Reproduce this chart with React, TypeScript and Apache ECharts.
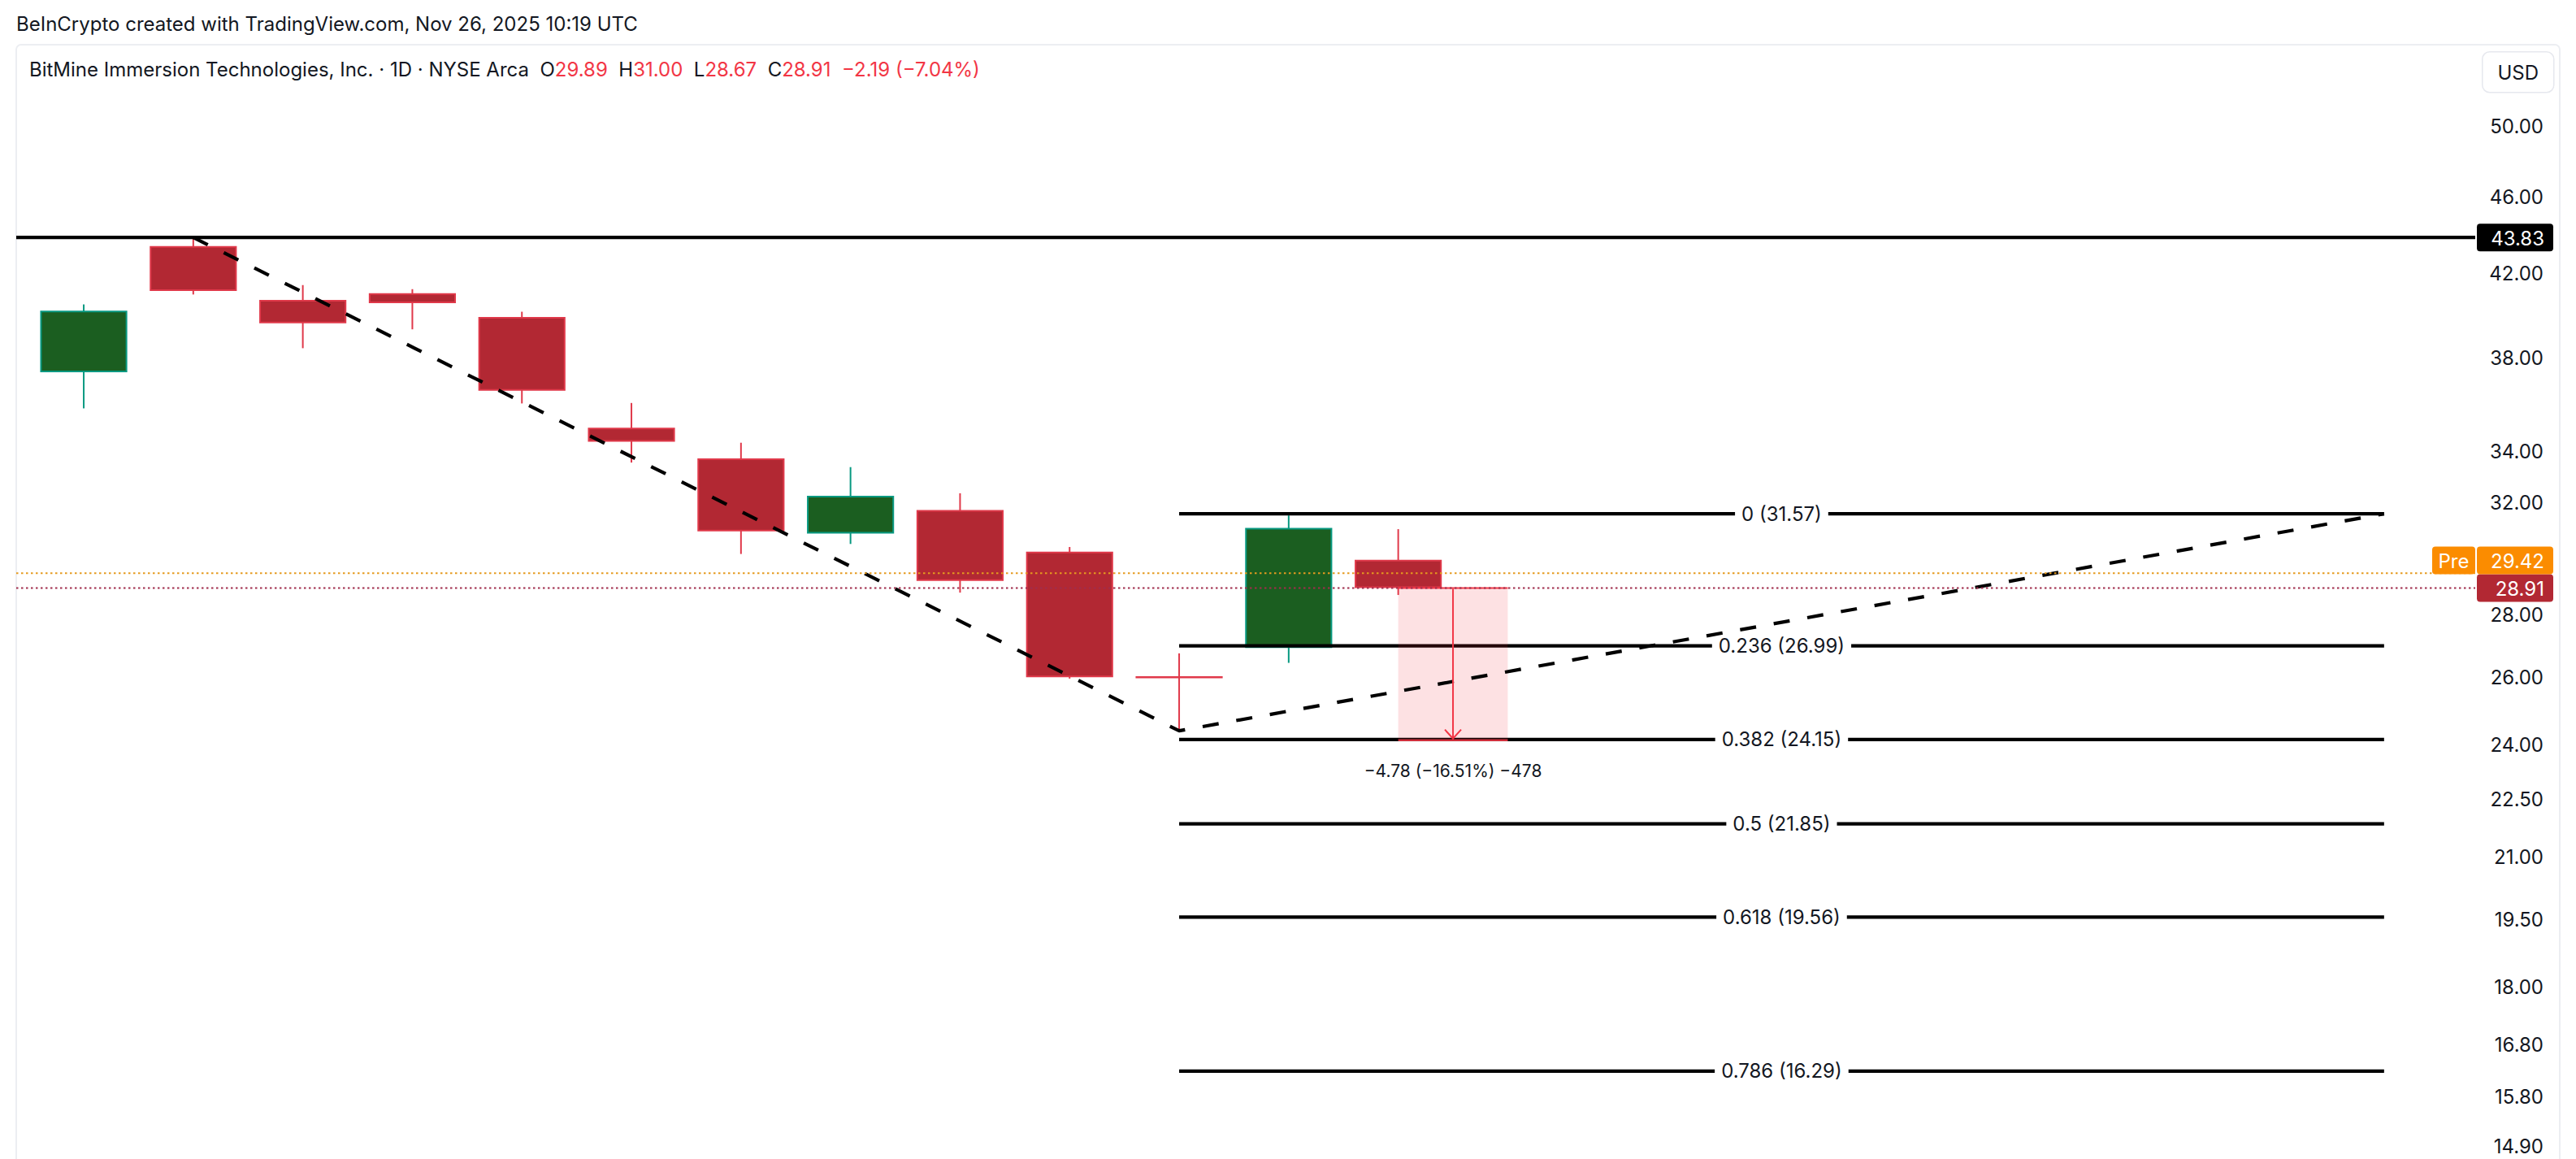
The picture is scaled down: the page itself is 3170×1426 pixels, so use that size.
import React, { useEffect, useRef } from "react";
import * as echarts from "echarts";

// ---------- text ----------
const titleText = "BeInCrypto created with TradingView.com, Nov 26, 2025 10:19 UTC";
const symbolText = "BitMine Immersion Technologies, Inc. · 1D · NYSE Arca";
const legendOpen = "29.89";
const legendHigh = "31.00";
const legendLow = "28.67";
const legendClose = "28.91";
const legendChange = "−2.19 (−7.04%)";
const currencyText = "USD";

// ---------- candles (daily) ----------
const candleIndex = [0, 1, 2, 3, 4, 5, 6, 7, 8, 9, 10, 11, 12];
const opens = [37.35, 43.38, 40.7, 41.02, 39.88, 34.97, 33.72, 30.84, 31.71, 30.18, 26.01, 26.92, 29.89];
const closes = [40.18, 41.13, 39.58, 40.54, 36.54, 34.39, 30.92, 32.25, 29.15, 26.0, 26.0, 31.05, 28.91];
const lows = [35.78, 40.96, 38.43, 39.3, 35.99, 33.55, 30.1, 30.46, 28.75, 25.96, 24.4, 26.45, 28.67];
const highs = [40.48, 43.83, 41.42, 41.22, 40.13, 36.01, 34.35, 33.37, 32.35, 30.35, 26.75, 31.51, 31.0];

// ---------- levels ----------
const resistancePrice = 43.83;
const prePrice = 29.42;
const lastClose = 28.91;

const fibRatios = ["0", "0.236", "0.382", "0.5", "0.618", "0.786"];
const fibPrices = [31.57, 26.99, 24.15, 21.85, 19.56, 16.29];
const fibStartIndex = 10;
const fibEndIndex = 21;

const trendX = [1, 10, 21];
const trendPrices = [43.83, 24.4, 31.57];

const measureFrom = 12;
const measureTo = 13;
const measureTop = 28.91;
const measureBottom = 24.13;
const measureText = "−4.78 (−16.51%) −478";

// ---------- axis ----------
const yTicks = [50, 46, 42, 38, 34, 32, 28, 26, 24, 22.5, 21, 19.5, 18, 16.8, 15.8, 14.9];
const yMinPrice = 14.676;
const yMaxPrice = 55.1;
const xMin = -0.616;
const xMax = 21.832;

const FONT = "Inter, Roboto, 'Liberation Sans', sans-serif";
const INK = "#131722";
const RED = "#f23645";
const DOWN_FILL = "#b22833";
const DOWN_LINE = "#e0394a";
const UP_FILL = "#1b5e20";
const UP_LINE = "#089981";
const ORANGE = "#fb8c00";
const LEVEL_WIDTH = 4.2;

const L = Math.log;

function buildOption(): any {
  const candleData = candleIndex.map((i, k) => [i, L(opens[k]), L(closes[k]), L(lows[k]), L(highs[k])]);

  const candleSeries = {
    type: "custom",
    name: "candles",
    z: 2,
    dimensions: ["x", "open", "close", "low", "high"],
    encode: { x: 0, y: [1, 2, 3, 4] },
    data: candleData,
    renderItem: (params: any, api: any) => {
      const x = api.value(0);
      const o = api.value(1);
      const c = api.value(2);
      const lo = api.value(3);
      const hi = api.value(4);
      const up = c > o;
      const pO = api.coord([x, o]);
      const pC = api.coord([x, c]);
      const pL = api.coord([x, lo]);
      const pH = api.coord([x, hi]);
      const step = api.coord([x + 1, o])[0] - pO[0];
      const w = step * 0.795;
      const cx = pO[0];
      const top = Math.min(pO[1], pC[1]);
      const bot = Math.max(pO[1], pC[1]);
      const line = up ? UP_LINE : DOWN_LINE;
      const fill = up ? UP_FILL : DOWN_FILL;
      const children: any[] = [
        {
          type: "line",
          shape: { x1: cx, y1: pH[1], x2: cx, y2: pL[1] },
          style: { stroke: line, lineWidth: 2 },
        },
      ];
      if (bot - top < 3) {
        children.push({
          type: "line",
          shape: { x1: cx - w / 2, y1: (top + bot) / 2, x2: cx + w / 2, y2: (top + bot) / 2 },
          style: { stroke: line, lineWidth: 2.5 },
        });
      } else {
        children.push({
          type: "rect",
          shape: { x: cx - w / 2 + 1, y: top + 1, width: w - 2, height: bot - top - 2 },
          style: { fill, stroke: line, lineWidth: 2 },
        });
      }
      return { type: "group", children };
    },
  };

  const resistanceSeries = {
    type: "custom",
    name: "resistance",
    z: 3,
    data: [[0, L(resistancePrice)]],
    renderItem: (params: any, api: any) => {
      const v = api.value(1);
      const p1 = api.coord([xMin, v]);
      const p2 = api.coord([xMax, v]);
      return {
        type: "line",
        shape: { x1: p1[0], y1: p1[1], x2: p2[0], y2: p2[1] },
        style: { stroke: "#000", lineWidth: LEVEL_WIDTH },
      };
    },
  };

  const fibSeries = {
    type: "custom",
    name: "fib",
    z: 3,
    data: fibPrices.map((p, k) => [k, L(p)]),
    renderItem: (params: any, api: any) => {
      const k = params.dataIndex;
      const v = api.value(1);
      const p1 = api.coord([fibStartIndex, v]);
      const p2 = api.coord([fibEndIndex, v]);
      const pm = api.coord([(fibStartIndex + fibEndIndex) / 2, v]);
      return {
        type: "group",
        children: [
          {
            type: "line",
            shape: { x1: p1[0], y1: p1[1], x2: p2[0], y2: p2[1] },
            style: { stroke: "#000", lineWidth: LEVEL_WIDTH },
          },
          {
            type: "text",
            x: pm[0],
            y: pm[1],
            style: {
              text: `${fibRatios[k]} (${fibPrices[k].toFixed(2)})`,
              fill: INK,
              fontSize: 24,
              fontFamily: FONT,
              align: "center",
              verticalAlign: "middle",
              backgroundColor: "#ffffff",
              padding: [3, 8],
            },
          },
        ],
      };
    },
  };

  const measureBoxSeries = {
    type: "custom",
    name: "measureBox",
    z: 4,
    data: [[measureFrom, measureTo, L(measureTop), L(measureBottom)]],
    renderItem: (params: any, api: any) => {
      const a = api.coord([api.value(0), api.value(2)]);
      const b = api.coord([api.value(1), api.value(3)]);
      return {
        type: "group",
        children: [
          {
            type: "rect",
            shape: { x: a[0], y: a[1], width: b[0] - a[0], height: b[1] - a[1] },
            style: { fill: "rgba(242,54,69,0.15)" },
          },
          {
            type: "line",
            shape: { x1: a[0], y1: a[1], x2: b[0], y2: a[1] },
            style: { stroke: RED, lineWidth: 2 },
          },
          {
            type: "line",
            shape: { x1: a[0], y1: b[1], x2: b[0], y2: b[1] },
            style: { stroke: RED, lineWidth: 2 },
          },
        ],
      };
    },
  };

  const trendSeries = {
    type: "line",
    name: "trend",
    z: 5,
    symbol: "none",
    silent: true,
    data: trendX.map((x, k) => [x, L(trendPrices[k])]),
    lineStyle: { color: "#000", width: 4.2, type: [20, 22] },
  };

  const dottedSeries = {
    type: "custom",
    name: "dotted",
    z: 6,
    data: [
      [0, L(prePrice)],
      [1, L(lastClose)],
    ],
    renderItem: (params: any, api: any) => {
      const v = api.value(1);
      const p1 = api.coord([xMin, v]);
      const p2 = api.coord([xMax, v]);
      const color = params.dataIndex === 0 ? "#e59a1f" : "#a02d4c";
      return {
        type: "line",
        shape: { x1: p1[0], y1: p1[1], x2: p2[0], y2: p2[1] },
        style: { stroke: color, lineWidth: 2, lineDash: [2.5, 3.5] },
      };
    },
  };

  const measureArrowSeries = {
    type: "custom",
    name: "measureArrow",
    z: 7,
    data: [[measureFrom, measureTo, L(measureTop), L(measureBottom)]],
    renderItem: (params: any, api: any) => {
      const mid = (api.value(0) + api.value(1)) / 2;
      const a = api.coord([mid, api.value(2)]);
      const b = api.coord([mid, api.value(3)]);
      return {
        type: "group",
        children: [
          {
            type: "line",
            shape: { x1: a[0], y1: a[1] + 1, x2: b[0], y2: b[1] - 2 },
            style: { stroke: RED, lineWidth: 2 },
          },
          {
            type: "polyline",
            shape: {
              points: [
                [b[0] - 10, b[1] - 13],
                [b[0], b[1] - 2],
                [b[0] + 10, b[1] - 13],
              ],
            },
            style: { stroke: RED, lineWidth: 2, fill: "none" },
          },
          {
            type: "text",
            x: b[0],
            y: b[1] + 38,
            style: {
              text: measureText,
              fill: INK,
              fontSize: 21,
              fontFamily: FONT,
              align: "center",
              verticalAlign: "middle",
            },
          },
        ],
      };
    },
  };

  const tagSeries = {
    type: "custom",
    name: "tags",
    z: 10,
    data: [
      [0, L(resistancePrice)],
      [1, L(lastClose)],
      [2, L(prePrice)],
    ],
    renderItem: (params: any, api: any) => {
      const k = params.dataIndex;
      const v = api.value(1);
      const p = api.coord([xMax, v]);
      const right = p[0];
      const h = 34;
      let cy = p[1];
      let fill = "#000";
      let label = resistancePrice.toFixed(2);
      if (k === 1) {
        fill = DOWN_FILL;
        label = lastClose.toFixed(2);
      }
      if (k === 2) {
        fill = ORANGE;
        label = prePrice.toFixed(2);
        const closeY = api.coord([xMax, L(lastClose)])[1];
        cy = Math.min(cy, closeY - h);
      }
      const children: any[] = [
        {
          type: "rect",
          shape: { x: right + 2, y: cy - h / 2, width: 94, height: h, r: 4 },
          style: { fill },
        },
        {
          type: "text",
          x: right + 85,
          y: cy + 1,
          style: {
            text: label,
            fill: "#ffffff",
            fontSize: 24,
            fontFamily: FONT,
            align: "right",
            verticalAlign: "middle",
          },
        },
      ];
      if (k === 2) {
        children.push(
          {
            type: "rect",
            shape: { x: right - 53, y: cy - h / 2, width: 53, height: h, r: 4 },
            style: { fill: ORANGE },
          },
          {
            type: "text",
            x: right - 26.5,
            y: cy + 1,
            style: {
              text: "Pre",
              fill: "#ffffff",
              fontSize: 24,
              fontFamily: FONT,
              align: "center",
              verticalAlign: "middle",
            },
          }
        );
      }
      return { type: "group", children };
    },
  };

  return {
    animation: false,
    backgroundColor: "#ffffff",
    grid: { left: 20, right: 124, top: 55, bottom: 0, containLabel: false },
    xAxis: {
      type: "value",
      min: xMin,
      max: xMax,
      show: false,
    },
    yAxis: {
      type: "value",
      position: "right",
      min: L(yMinPrice),
      max: L(yMaxPrice),
      axisLine: { show: false },
      axisTick: { show: false },
      splitLine: { show: false },
      axisLabel: {
        customValues: yTicks.map((t) => L(t)),
        formatter: (v: number) => Math.exp(v).toFixed(2),
        fontSize: 24,
        fontFamily: FONT,
        color: INK,
        align: "right",
        margin: 84,
      },
    },
    graphic: [
      {
        type: "rect",
        z: -10,
        shape: { x: 20, y: 55, width: 3130, height: 1420, r: 6 },
        style: { fill: "none", stroke: "#eceef2", lineWidth: 2 },
        silent: true,
      },
      {
        type: "text",
        left: 20,
        top: 17,
        style: { text: titleText, fill: INK, fontSize: 24, fontFamily: FONT },
      },
      {
        type: "text",
        left: 36,
        top: 73,
        style: {
          text: `{b|${symbolText}}  {b|O}{r|${legendOpen}}  {b|H}{r|${legendHigh}}  {b|L}{r|${legendLow}}  {b|C}{r|${legendClose}}  {r|${legendChange}}`,
          fontSize: 24,
          fontFamily: FONT,
          fill: INK,
          rich: {
            b: { fill: INK, fontSize: 24, fontFamily: FONT },
            r: { fill: RED, fontSize: 24, fontFamily: FONT },
          },
        },
      },
      {
        type: "group",
        left: 3054,
        top: 63,
        children: [
          {
            type: "rect",
            shape: { x: 0, y: 0, width: 88, height: 50, r: 9 },
            style: { fill: "#ffffff", stroke: "#e6e8ee", lineWidth: 1.5 },
          },
          {
            type: "text",
            x: 44,
            y: 26,
            style: {
              text: currencyText,
              fill: INK,
              fontSize: 24,
              fontFamily: FONT,
              align: "center",
              verticalAlign: "middle",
            },
          },
        ],
      },
    ],
    series: [
      candleSeries,
      resistanceSeries,
      fibSeries,
      measureBoxSeries,
      trendSeries,
      dottedSeries,
      measureArrowSeries,
      tagSeries,
    ],
  };
}

export default function App() {
  const ref = useRef<HTMLDivElement>(null);
  useEffect(() => {
    if (!ref.current) return;
    const chart = echarts.init(ref.current, null, { renderer: "svg" });
    chart.setOption(buildOption());
    return () => chart.dispose();
  }, []);
  return (
    <div
      ref={ref}
      style={{ position: "fixed", left: 0, top: 0, width: 3170, height: 1426, background: "#ffffff" }}
    />
  );
}
